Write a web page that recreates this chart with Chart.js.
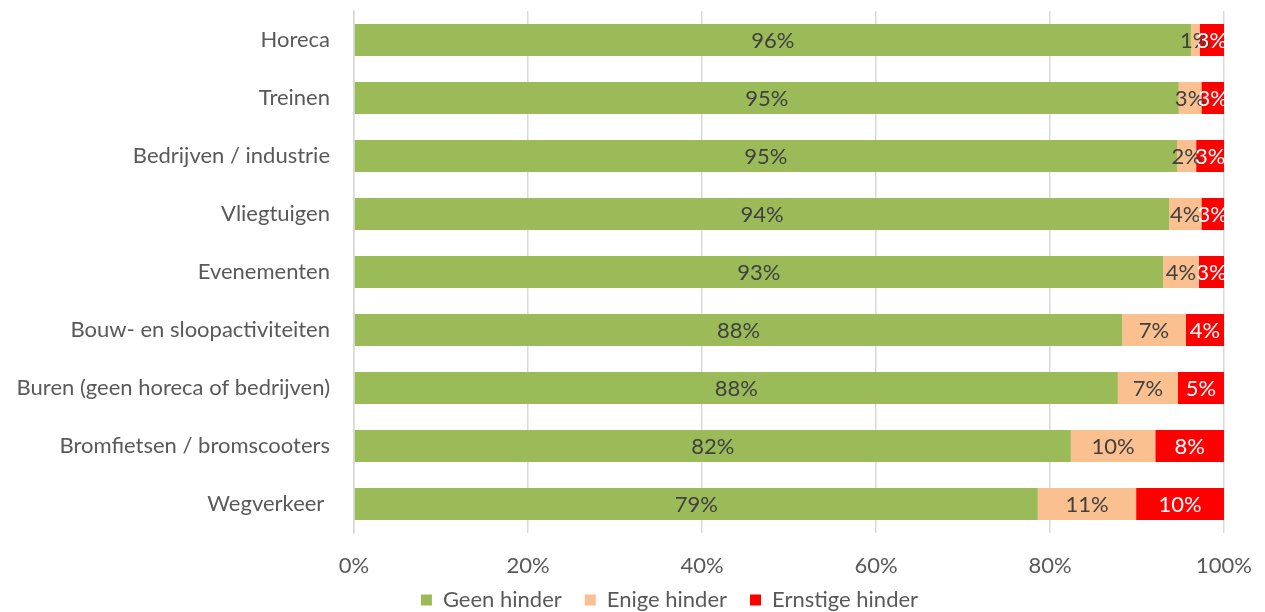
<!DOCTYPE html>
<html>
<head>
<meta charset="utf-8">
<script src="https://cdn.jsdelivr.net/npm/chart.js@4"></script>
<style>
  html, body { margin: 0; padding: 0; background: #fff; }
  #wrap { width: 1265px; height: 612px; }
</style>
</head>
<body>
<div id="wrap"><canvas id="myChart" width="1265" height="612"></canvas></div>
<script>
const categories = [
  "Horeca",
  "Treinen",
  "Bedrijven / industrie",
  "Vliegtuigen",
  "Evenementen",
  "Bouw- en sloopactiviteiten",
  "Buren (geen horeca of bedrijven)",
  "Bromfietsen / bromscooters",
  "Wegverkeer ",
];
// percentages
const geenHinder = [96.2, 94.8, 94.6, 93.7, 93.0, 88.3, 87.8, 82.4, 78.6];
const enigeHinder = [1.0, 2.6, 2.2, 3.7, 4.1, 7.3, 6.9, 9.7, 11.3];
const ernstigeHinder = [2.8, 2.6, 3.2, 2.6, 2.9, 4.4, 5.3, 7.9, 10.1];
const xTicks = [0, 20, 40, 60, 80, 100];

const FONT = "Lato, 'Open Sans', sans-serif";
const FONT_SIZE = 22;

// draws the rounded value in the middle of each segment
const segmentLabels = {
  id: "segmentLabels",
  afterDatasetsDraw(chart) {
    const ctx = chart.ctx;
    ctx.save();
    ctx.font = FONT_SIZE + "px " + FONT;
    ctx.textAlign = "center";
    ctx.textBaseline = "middle";
    chart.data.datasets.forEach((ds, i) => {
      const meta = chart.getDatasetMeta(i);
      meta.data.forEach((bar, j) => {
        const v = ds.data[j];
        ctx.fillStyle = ds.labelColor;
        ctx.fillText(Math.round(v) + "%", (bar.x + bar.base) / 2, bar.y + 1);
      });
    });
    ctx.restore();
  },
};

// the legend row sits right of centre and a bit higher in the original
const shiftLegend = {
  id: "shiftLegend",
  afterLayout(chart) {
    chart.legend.left += 115;
    chart.legend.top -= 13;
    chart.legend.bottom -= 13;
  },
};

new Chart(document.getElementById("myChart"), {
  type: "bar",
  data: {
    labels: categories,
    datasets: [
      { label: "Geen hinder", data: geenHinder, backgroundColor: "#9BBB59", labelColor: "#404040" },
      { label: "Enige hinder", data: enigeHinder, backgroundColor: "#FAC090", labelColor: "#404040" },
      { label: "Ernstige hinder", data: ernstigeHinder, backgroundColor: "#FF0000", labelColor: "#FFFFFF" },
    ],
  },
  options: {
    indexAxis: "y",
    responsive: false,
    animation: false,
    barPercentage: 0.552,
    categoryPercentage: 1,
    layout: { padding: { top: 11, right: 41, left: 0, bottom: -22 } },
    scales: {
      x: {
        stacked: true,
        min: 0,
        max: 100,
        afterBuildTicks(scale) {
          scale.ticks = xTicks.map((v) => ({ value: v }));
        },
        afterFit(scale) {
          scale.paddingLeft = 0;
          scale.paddingRight = 0;
          scale.height = 46;
        },
        grid: { color: "#D9D9D9", lineWidth: 1.5, drawTicks: false },
        border: { display: false },
        ticks: {
          padding: 20,
          color: "#595959",
          font: { family: FONT, size: FONT_SIZE },
          callback: (v) => v + "%",
        },
      },
      y: {
        stacked: true,
        afterFit(scale) {
          scale.width = 354;
          scale.paddingTop = 0;
          scale.paddingBottom = 0;
        },
        grid: { display: false, drawTicks: false },
        border: { display: true, color: "#D9D9D9", width: 1.5 },
        ticks: {
          padding: 24,
          color: "#595959",
          font: { family: FONT, size: FONT_SIZE },
        },
      },
    },
    plugins: {
      tooltip: { enabled: false },
      legend: {
        position: "bottom",
        labels: {
          boxWidth: 11,
          boxHeight: 11,
          padding: 23,
          color: "#595959",
          font: { family: FONT, size: FONT_SIZE },
        },
      },
    },
  },
  plugins: [segmentLabels, shiftLegend],
});
</script>
</body>
</html>
